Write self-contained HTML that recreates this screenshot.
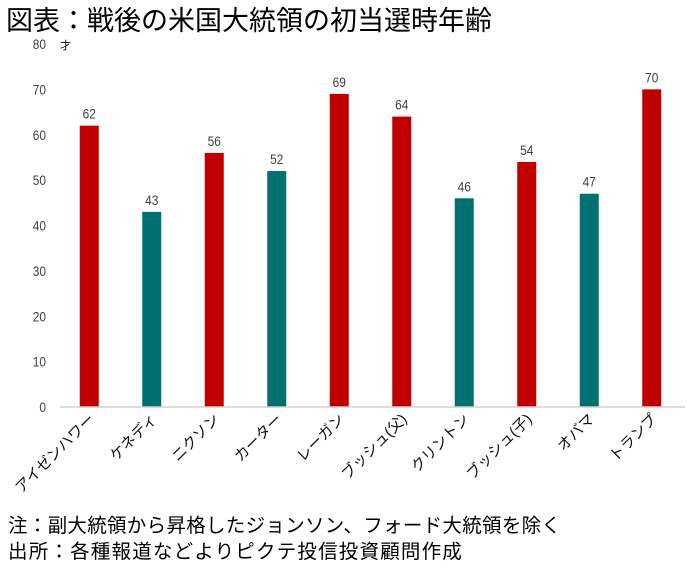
<!DOCTYPE html>
<html><head><meta charset="utf-8"><style>
body{margin:0;background:#fff;width:700px;height:569px;overflow:hidden;font-family:"Liberation Sans","Noto Sans CJK JP",sans-serif}
</style></head><body>
<svg width="700" height="569" xmlns="http://www.w3.org/2000/svg" font-family="'Liberation Sans','Noto Sans CJK JP',sans-serif">
<text x="6" y="30" font-size="27" fill="#000">図表：戦後の米国大統領の初当選時年齢</text>
<text x="60" y="49" font-size="11" fill="#000">才</text>
<g id="yaxis"></g><g id="bars"></g><g id="xlabels"></g>
<line x1="60" x2="685" y1="407" y2="407" stroke="#d0d0d0" stroke-width="1.5"/>
<text x="8" y="532" font-size="19.5" letter-spacing="0.3" fill="#000">注：副大統領から昇格したジョンソン、フォード大統領を除く</text>
<text x="8" y="558" font-size="19.5" letter-spacing="1.2" fill="#000">出所：各種報道などよりピクテ投信投資顧問作成</text>
</svg>
<script>
const categories=["アイゼンハワー","ケネディ","ニクソン","カーター","レーガン","ブッシュ(父)","クリントン","ブッシュ(子)","オバマ","トランプ"];
const ages=[62,43,56,52,69,64,46,54,47,70];
const parties=["R","D","R","D","R","R","D","R","D","R"];
const yTicks=[0,10,20,30,40,50,60,70,80];
const NS="http://www.w3.org/2000/svg";
const y0=407,y80=44,x0=60,x1=685;
const yS=v=>y0-(y0-y80)*v/80;
const band=(x1-x0)/categories.length;
const xS=i=>x0+band*(i+0.5)-2;
function mk(t,a,p){const e=document.createElementNS(NS,t);for(const k in a)e.setAttribute(k,a[k]);p.appendChild(e);return e;}
const ya=document.getElementById('yaxis'),bg=document.getElementById('bars'),xl=document.getElementById('xlabels');
yTicks.forEach(v=>{const t=mk('text',{x:0,y:0,'font-size':14,'text-anchor':'end',fill:'#404040',transform:`translate(46 ${yS(v)+5}) scale(0.85 1)`},ya);t.textContent=v;

});
categories.forEach((c,i)=>{const cx=xS(i),w=19;
const r=mk('rect',{x:cx-w/2,y:yS(ages[i]),width:w,height:y0-yS(ages[i]),fill:parties[i]==="R"?"#c00000":"#007070"},bg);


const l=mk('text',{x:0,y:0,'font-size':14,'text-anchor':'middle',fill:'#404040',transform:`translate(${cx} ${yS(ages[i])-7}) scale(0.85 1)`},bg);l.textContent=ages[i];


const t=mk('text',{x:cx+6,y:420,'font-size':15,'text-anchor':'end',fill:'#111',transform:`rotate(-45 ${cx+6} 420)`},xl);t.textContent=c;

});
</script>
</body></html>
